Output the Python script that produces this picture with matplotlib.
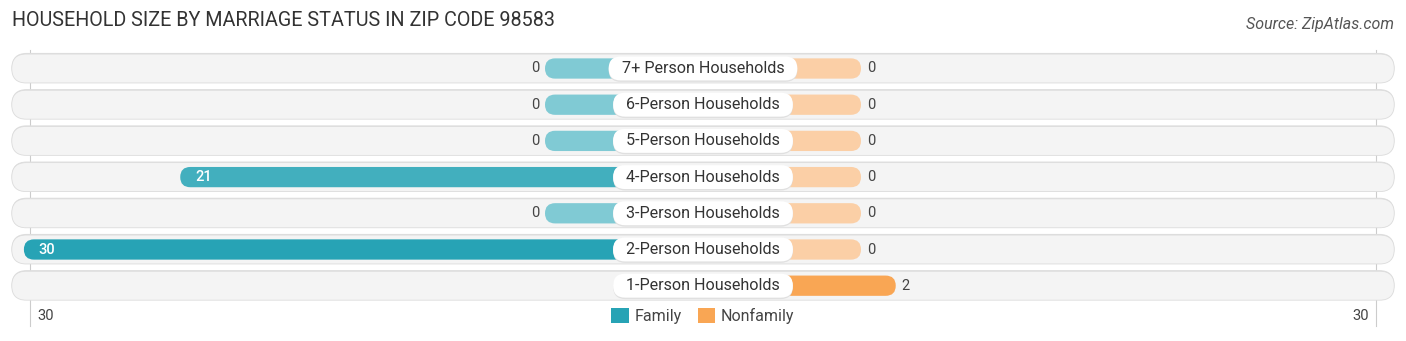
import numpy as np
import matplotlib.pyplot as plt
from matplotlib.patches import FancyBboxPatch, Patch
from matplotlib.colors import to_rgb

plt.rcParams['font.family'] = ['Roboto', 'DejaVu Sans']

# data (None = no value shown)
categories = ["7+ Person Households", "6-Person Households", "5-Person Households",
              "4-Person Households", "3-Person Households", "2-Person Households",
              "1-Person Households"]
family = [0, 0, 0, 21, 0, 30, None]
nonfamily = [0, 0, 0, 0, 0, 0, 2]
axis_max = 30

# layout (pixels)
W, H = 1406, 341
PX = 17.37      # px per unit
ROW = 36.2      # px per row
CX = 703
Y0 = 68.5
STUB = 158 / PX
ASP = PX / ROW

fam_full, fam_light = '#27a3b5', '#80cad4'
non_full, non_light = '#f9a654', '#fbcfa6'


def blend(c0, c1, t):
    a, b = np.array(to_rgb(c0)), np.array(to_rgb(c1))
    return tuple(a + (b - a) * t)


def pill(ax, x0, x1, y, h, fc, ec='none', lw=0, z=1):
    r = h / 2 / ASP
    p = FancyBboxPatch((x0, y - h / 2), x1 - x0, h,
                       boxstyle=f"round,pad=0,rounding_size={r}",
                       mutation_aspect=ASP, fc=fc, ec=ec, lw=lw, zorder=z)
    ax.add_patch(p)


fig = plt.figure(figsize=(W / 100, H / 100), dpi=100)
ax = fig.add_axes([0, 0, 1, 1])
ax.set_xlim(-CX / PX, (W - CX) / PX)
ax.set_ylim((H - Y0) / ROW, -Y0 / ROW)
ax.axis('off')
renderer = fig.canvas.get_renderer()

edge = STUB + axis_max
bg_l, bg_r = -edge - 0.7, edge + 0.7

# axis lines
for s in (-1, 1):
    ax.plot([s * (edge - 0.35)] * 2, [-0.5, 7.1], color='#cccccc', lw=0.8, zorder=0.5)

fmax = max(v for v in family if v is not None) or 1
nmax = max(v for v in nonfamily if v is not None) or 1
for i, cat in enumerate(categories):
    # row background with a soft shadow
    pill(ax, bg_l, bg_r, i - 0.02, 0.82, '#dedede', z=0.8)
    pill(ax, bg_l, bg_r, i, 0.80, '#f4f4f4', ec='#dcdcdc', lw=0.6, z=1)

    fv, nv = family[i], nonfamily[i]
    if fv is not None:
        fl = STUB + fv
        pill(ax, -fl, 0, i, 0.56, blend(fam_light, fam_full, fv / fmax), z=2)
        if fv >= 10:
            ax.text(-fl + 0.85, i, str(fv), ha='left', va='center', fontsize=10.5,
                    color='white', fontweight='medium', zorder=4)
        else:
            ax.text(-fl - 0.3, i, str(fv), ha='right', va='center', fontsize=10.5,
                    color='#444444', zorder=4)
    if nv is not None:
        nl = STUB + nv
        pill(ax, 0, nl, i, 0.56, blend(non_light, non_full, nv / nmax), z=2)
        ax.text(nl + 0.35, i, str(nv), ha='left', va='center', fontsize=10.5,
                color='#444444', zorder=4)

    # label pill sized to the text
    t = ax.text(0, i, cat, ha='center', va='center', fontsize=11.6, color='#333333', zorder=4)
    half = (t.get_window_extent(renderer).width / 2 + 13) / PX
    pill(ax, -half, half, i + 0.03, 0.68, '#e0e0e0', z=3)
    pill(ax, -half, half, i, 0.66, 'white', z=3.1)

# axis labels
ax.text(-(edge - 0.35) + 0.4, 6.85, str(axis_max), ha='left', va='center', fontsize=10.5, color='#444444')
ax.text((edge - 0.35) - 0.4, 6.85, str(axis_max), ha='right', va='center', fontsize=10.5, color='#444444')

handles = [Patch(fc=fam_full, label='Family'), Patch(fc=non_full, label='Nonfamily')]
fig.legend(handles=handles, loc='center', bbox_to_anchor=(0.5, 1 - 316 / H), ncol=2,
           frameon=False, fontsize=11.5, handlelength=1.1, handleheight=1.1,
           handletextpad=0.35, columnspacing=1.0, labelcolor='#444444')

fig.text(12 / W, 1 - 21 / H, "HOUSEHOLD SIZE BY MARRIAGE STATUS IN ZIP CODE 98583",
         ha='left', va='center', fontsize=14.2, color='#333333')
fig.text(1394 / W, 1 - 25 / H, "Source: ZipAtlas.com", ha='right', va='center',
         fontsize=11.5, style='italic', color='#555555')

fig.savefig('out.png', dpi=100)
